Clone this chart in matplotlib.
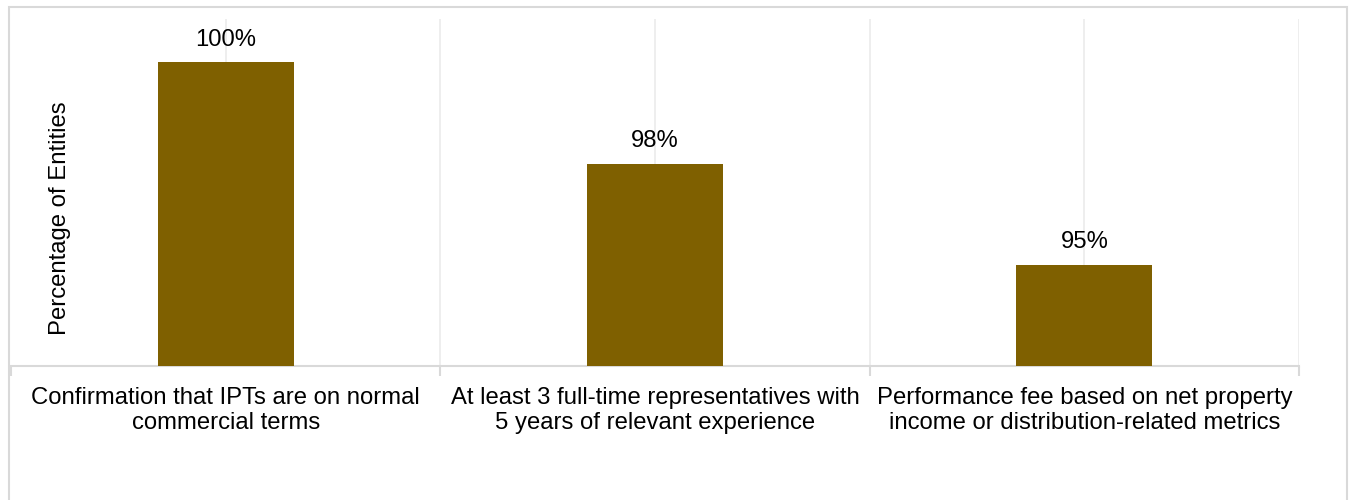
import matplotlib
matplotlib.use("Agg")
import matplotlib.pyplot as plt
from matplotlib.patches import Rectangle

categories = [
    "Confirmation that IPTs are on normal\ncommercial terms",
    "At least 3 full-time representatives with\n5 years of relevant experience",
    "Performance fee based on net property\nincome or distribution-related metrics",
]
values = [100, 97.5, 95]
value_labels = ["100%", "98%", "95%"]

plt.rcParams['font.family'] = ['Liberation Sans', 'DejaVu Sans']

W, H = 1349, 500
FS = 17.2
fig = plt.figure(figsize=(W / 100, H / 100), dpi=100)

# outer chart border
fig.patches.append(Rectangle((9 / W, -0.05), (1347 - 9) / W, 1.05 - 7 / H,
                             transform=fig.transFigure, fill=False,
                             edgecolor='#D9D9D9', linewidth=1.5))

ax = fig.add_axes([11 / W, (H - 366) / H, (1299 - 11) / W, (366 - 19) / H])
x = list(range(len(categories)))
ax.bar(x, values, width=0.316, color='#7F6000', zorder=3)
ax.set_xlim(-0.5, len(categories) - 0.5)
ax.set_ylim(92.5, 101.07)

# vertical gridlines at category centers and boundaries
for g in [-0.5 + 0.5 * i for i in range(2 * len(categories) + 1)]:
    if g == -0.5:
        continue
    ax.axvline(g, color='#EBEBEB', linewidth=1.2, zorder=1)

for xi, v, lab in zip(x, values, value_labels):
    ax.annotate(lab, (xi, v), xytext=(0, 16.2), textcoords='offset points',
                ha='center', va='center', fontsize=FS, color='#000000')

for s in ['top', 'right', 'left']:
    ax.spines[s].set_visible(False)
ax.spines['bottom'].set_color('#D9D9D9')
ax.spines['bottom'].set_linewidth(1.5)
ax.set_yticks([])
ax.set_xticks([-0.5 + i for i in range(len(categories) + 1)])
ax.set_xticklabels([])
ax.tick_params(axis='x', length=7, color='#D9D9D9', width=1.5, direction='out')
for xi, c in zip(x, categories):
    ax.text(xi, -0.061, c, transform=ax.get_xaxis_transform(), ha='center',
            va='top', fontsize=FS, color='#000000', linespacing=1.17)

fig.text(60 / W, 1 - 218 / H, "Percentage of Entities", rotation=90,
         ha='center', va='center', fontsize=FS, color='#000000')

fig.savefig("out.png", dpi=100, facecolor='white')
